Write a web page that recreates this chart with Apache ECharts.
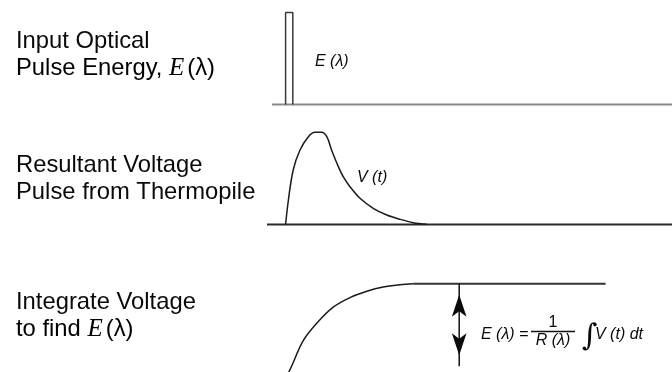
<!DOCTYPE html>
<html><head><meta charset="utf-8">
<script src="https://cdn.jsdelivr.net/npm/echarts@6/dist/echarts.min.js"></script>
<style>html,body{margin:0;padding:0;background:#fff}#c{width:672px;height:372px}</style>
</head><body><div id="c"></div>
<script>
// time axis in arbitrary units (0..102), amplitude normalised 0..1
const pulseBaseline = [[2, 0], [102, 0]];
const pulseOutline = [[5.4, 0], [5.4, 0.958], [7.2, 0.958], [7.2, 0]];
const voltageBaseline = [[0.75, 0], [102, 0]];
const voltageCurve = [
  [5.4, 0], [6.1, 0.255], [7.3, 0.568], [9.0, 0.776], [11.1, 0.915], [12.75, 0.96],
  [14.4, 0.96], [15.7, 0.915], [16.9, 0.776], [18.2, 0.64], [19.8, 0.498], [21.5, 0.394],
  [24.0, 0.273], [27.3, 0.169], [30.7, 0.099], [34.0, 0.054], [37.3, 0.019], [40.7, 0.002]
];
const integralCurve = [
  [6.2, 0], [6.9, 0.0625], [9.8, 0.341], [13.2, 0.531], [17.3, 0.705], [21.5, 0.809],
  [25.7, 0.878], [29.8, 0.924], [34.0, 0.948], [37.3, 0.958]
];
const integralPlateau = [[37.3, 0.958], [85.4, 0.958]];
const arrowEnds = [[48.8, 0.958], [48.8, 0.0625]];

const leftLabels = [
  ['Input Optical', 'Pulse Energy, '],
  ['Resultant Voltage', 'Pulse from Thermopile'],
  ['Integrate Voltage', 'to find ']
];

const chart = echarts.init(document.getElementById('c'), null, {renderer: 'canvas'});
const grids = [
  {left: 264, width: 408, top: 8.5, height: 96},
  {left: 264, width: 408, top: 128.5, height: 96},
  {left: 264, width: 408, top: 280, height: 96}
];
const xAxes = grids.map((g, i) => ({type: 'value', gridIndex: i, min: 0, max: 102, show: false}));
const yAxes = grids.map((g, i) => ({type: 'value', gridIndex: i, min: 0, max: 1, show: false}));
const line = (data, gi, color, w, smooth) => ({
  type: 'line', xAxisIndex: gi, yAxisIndex: gi, data, showSymbol: false, symbol: 'none',
  clip: false, animation: false, silent: true, smooth: smooth || false,
  lineStyle: {color, width: w}
});
const font = '"Liberation Sans", Arial, Helvetica, sans-serif';
const txt = (x, y, text, size, extra) => ({
  type: 'text', silent: true,
  style: Object.assign({x, y, text, fill: '#0a0a0a', font: size + 'px ' + font, verticalAlign: 'middle', align: 'left'}, extra || {})
});
const rich = {
  s: {fontFamily: font, fontSize: 23.8, color: '#0a0a0a'},
  e: {fontFamily: '"Liberation Serif", "Times New Roman", serif', fontStyle: 'italic', fontSize: 25, color: '#0a0a0a', padding: [0, 3, 0, 0]}
};
const richText = (x, y, str) => ({
  type: 'text', silent: true,
  style: {x, y, text: str, rich, verticalAlign: 'middle', align: 'left'}
});
const ifont = 'italic 16px ' + font;

chart.setOption({
  animation: false,
  grid: grids, xAxis: xAxes, yAxis: yAxes,
  series: [
    line(pulseBaseline, 0, '#8a8a8a', 2),
    line(pulseOutline, 0, '#3a3a3a', 1.5),
    line(voltageBaseline, 1, '#2a2a2a', 2),
    line(voltageCurve, 1, '#1a1a1a', 1.5, 0.35),
    line(integralCurve, 2, '#1a1a1a', 1.5, 0.35),
    line(integralPlateau, 2, '#333', 2),
    {
      type: 'line', xAxisIndex: 2, yAxisIndex: 2, clip: false, animation: false, silent: true,
      symbol: 'arrow', symbolSize: [11, 22], showSymbol: true, showAllSymbol: true,
      itemStyle: {color: '#0a0a0a'}, lineStyle: {color: '#111', width: 1.5},
      data: [
        {value: arrowEnds[0], symbolRotate: 0, symbolOffset: [0, 11]},
        {value: arrowEnds[1], symbolRotate: 180, symbolOffset: [0, -11]}
      ]
    }
  ],
  graphic: [
    txt(16, 41.5, leftLabels[0][0], 23.8),
    richText(16, 68.5, '{s|' + leftLabels[0][1] + '}{e|E}{s|(λ)}'),
    txt(16, 165, leftLabels[1][0], 23.8),
    txt(16, 192, leftLabels[1][1], 23.8),
    txt(16, 302, leftLabels[2][0], 23.8),
    richText(16, 329, '{s|' + leftLabels[2][1] + '}{e|E}{s|(λ)}'),
    txt(315, 62, 'E (λ)', 16, {font: ifont}),
    txt(357, 177.5, 'V (t)', 16, {font: ifont}),
    txt(481, 335, 'E (λ) =', 16, {font: ifont}),
    txt(553, 322.5, '1', 16, {font: '16px ' + font, align: 'center'}),
    {type: 'line', silent: true, shape: {x1: 531, y1: 331.5, x2: 575, y2: 331.5}, style: {stroke: '#111', lineWidth: 1.3}},
    txt(553, 341, 'R (λ)', 16, {font: ifont, align: 'center'}),
    txt(582, 337, '∫', 30, {font: 'italic 30px "DejaVu Serif", serif'}),
    txt(595, 335, 'V (t) dt', 16, {font: ifont})
  ]
});
</script></body></html>
